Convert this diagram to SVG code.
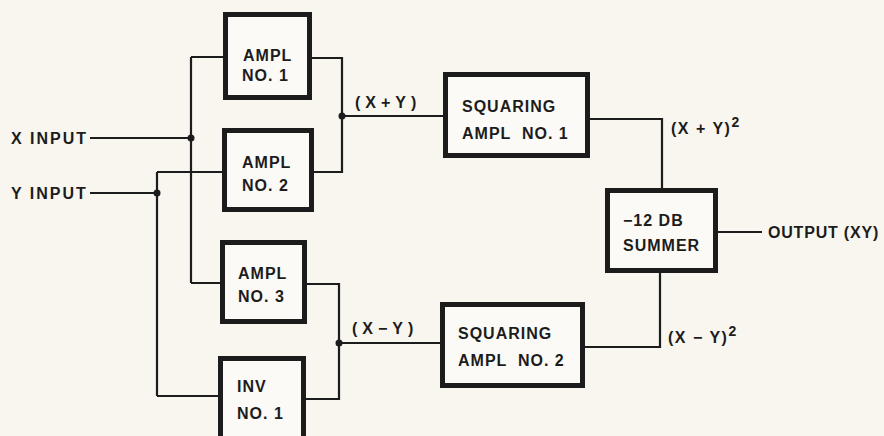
<svg xmlns="http://www.w3.org/2000/svg" width="884" height="436" viewBox="0 0 884 436">
<style>
.box{fill:#fbfaf6;stroke:#1c1c1c;stroke-width:5}
.ln{fill:none;stroke:#1c1c1c;stroke-width:2.2}
.dot{fill:#1c1c1c}
text{font-family:"Liberation Sans",Arial,sans-serif;font-weight:bold;fill:#1c1c1c}
.bt{font-size:16px;letter-spacing:1px}
.lb{font-size:16px;letter-spacing:2px}
</style>
<rect width="884" height="436" fill="#f8f6ef"/>
<g id="connectors">
<path class="ln" d="M90 138H191M191 57V283M191 57H223M191 283H220"/>
<path class="ln" d="M90 193H157M157 172V396M157 172H222M157 396H218"/>
<path class="ln" d="M312 58H342V172H313M342 116H443"/>
<path class="ln" d="M307 284H339V399H306M339 343H440"/>
<path class="ln" d="M590 119H662V188"/>
<path class="ln" d="M585 347H660V273"/>
<path class="ln" d="M718 232H762"/>
<circle class="dot" cx="191" cy="138" r="3.5"/>
<circle class="dot" cx="157" cy="193" r="3.5"/>
<circle class="dot" cx="342" cy="116" r="3.5"/>
<circle class="dot" cx="339" cy="343" r="3.5"/>
</g>
<g id="labels">
<text class="lb" x="11" y="144">X INPUT</text>
<text class="lb" x="11" y="199">Y INPUT</text>
<text class="lb" x="768" y="238" style="letter-spacing:0.8px">OUTPUT (XY)</text>
<text class="bt" x="355" y="108" style="letter-spacing:5px">(X+Y)</text>
<text class="bt" x="352" y="334" style="letter-spacing:5px">(X−Y)</text>
<text class="lb" x="671" y="134" style="letter-spacing:1.5px">(X + Y)<tspan font-size="14" dy="-7">2</tspan></text>
<text class="lb" x="668" y="343" style="letter-spacing:1.5px">(X − Y)<tspan font-size="14" dy="-7">2</tspan></text>
</g>
<g id="ampl1">
<rect class="box" x="225.5" y="14.5" width="84" height="83"/>
<text class="bt" x="243" y="61">AMPL</text>
<text class="bt" x="242" y="81">NO. 1</text>
</g>
<g id="ampl2">
<rect class="box" x="224.5" y="130.5" width="87" height="79"/>
<text class="bt" x="242" y="168">AMPL</text>
<text class="bt" x="242" y="191">NO. 2</text>
</g>
<g id="ampl3">
<rect class="box" x="222.5" y="242.5" width="82" height="79"/>
<text class="bt" x="238" y="279">AMPL</text>
<text class="bt" x="238" y="302">NO. 3</text>
</g>
<g id="inv1">
<rect class="box" x="220.5" y="358.5" width="83" height="85"/>
<text class="bt" x="237" y="392">INV</text>
<text class="bt" x="237" y="419">NO. 1</text>
</g>
<g id="sq1">
<rect class="box" x="445.5" y="74.5" width="142" height="81"/>
<text class="bt" x="462" y="112">SQUARING</text>
<text class="bt" x="462" y="139" xml:space="preserve">AMPL  NO. 1</text>
</g>
<g id="sq2">
<rect class="box" x="442.5" y="304.5" width="140" height="81"/>
<text class="bt" x="458" y="339">SQUARING</text>
<text class="bt" x="458" y="366" xml:space="preserve">AMPL  NO. 2</text>
</g>
<g id="summer">
<rect class="box" x="607.5" y="190.5" width="108" height="80"/>
<text class="bt" x="623" y="226">−12 DB</text>
<text class="bt" x="623" y="251">SUMMER</text>
</g>
</svg>
